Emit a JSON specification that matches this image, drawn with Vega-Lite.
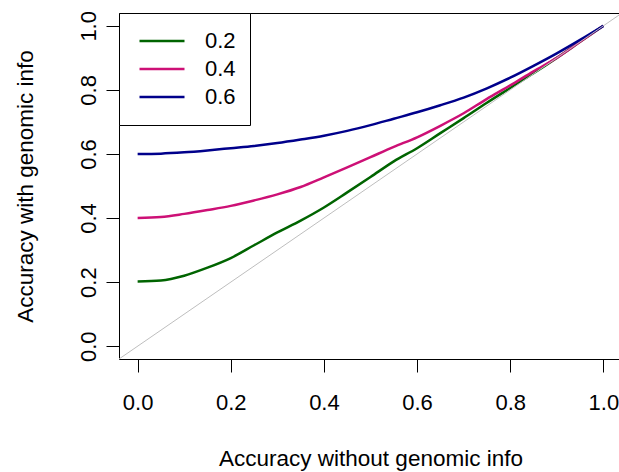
{
  "$schema": "https://vega.github.io/schema/vega-lite/v6.json",
  "autosize": "none",
  "padding": {"left": 119, "top": 13, "right": 0, "bottom": 113},
  "width": 503,
  "height": 346,
  "background": "white",
  "config": {
    "view": {"stroke": "black", "strokeWidth": 1},
    "font": "Liberation Sans",
    "axis": {
      "grid": false,
      "domain": false,
      "tickColor": "black",
      "tickSize": 13,
      "tickWidth": 1,
      "labelFont": "Liberation Sans",
      "labelFontSize": 22,
      "labelColor": "black",
      "titleFont": "Liberation Sans",
      "titleFontSize": 22.5,
      "titleFontWeight": "normal",
      "titleColor": "black"
    }
  },
  "layer": [
    {
      "data": {
        "values": [
          {"x": 0.00, "y": 0.202, "r": "0.2"},
          {"x": 0.05, "y": 0.205, "r": "0.2"},
          {"x": 0.10, "y": 0.220, "r": "0.2"},
          {"x": 0.15, "y": 0.245, "r": "0.2"},
          {"x": 0.20, "y": 0.275, "r": "0.2"},
          {"x": 0.25, "y": 0.315, "r": "0.2"},
          {"x": 0.30, "y": 0.355, "r": "0.2"},
          {"x": 0.35, "y": 0.392, "r": "0.2"},
          {"x": 0.40, "y": 0.433, "r": "0.2"},
          {"x": 0.45, "y": 0.480, "r": "0.2"},
          {"x": 0.50, "y": 0.528, "r": "0.2"},
          {"x": 0.55, "y": 0.577, "r": "0.2"},
          {"x": 0.60, "y": 0.618, "r": "0.2"},
          {"x": 0.65, "y": 0.665, "r": "0.2"},
          {"x": 0.70, "y": 0.712, "r": "0.2"},
          {"x": 0.75, "y": 0.760, "r": "0.2"},
          {"x": 0.80, "y": 0.806, "r": "0.2"},
          {"x": 0.85, "y": 0.852, "r": "0.2"},
          {"x": 0.90, "y": 0.900, "r": "0.2"},
          {"x": 0.95, "y": 0.950, "r": "0.2"},
          {"x": 1.00, "y": 1.000, "r": "0.2"},
          {"x": 0.00, "y": 0.400, "r": "0.4"},
          {"x": 0.05, "y": 0.403, "r": "0.4"},
          {"x": 0.10, "y": 0.413, "r": "0.4"},
          {"x": 0.15, "y": 0.425, "r": "0.4"},
          {"x": 0.20, "y": 0.438, "r": "0.4"},
          {"x": 0.25, "y": 0.455, "r": "0.4"},
          {"x": 0.30, "y": 0.474, "r": "0.4"},
          {"x": 0.35, "y": 0.497, "r": "0.4"},
          {"x": 0.40, "y": 0.527, "r": "0.4"},
          {"x": 0.45, "y": 0.558, "r": "0.4"},
          {"x": 0.50, "y": 0.590, "r": "0.4"},
          {"x": 0.55, "y": 0.622, "r": "0.4"},
          {"x": 0.60, "y": 0.652, "r": "0.4"},
          {"x": 0.65, "y": 0.688, "r": "0.4"},
          {"x": 0.70, "y": 0.727, "r": "0.4"},
          {"x": 0.75, "y": 0.772, "r": "0.4"},
          {"x": 0.80, "y": 0.814, "r": "0.4"},
          {"x": 0.85, "y": 0.858, "r": "0.4"},
          {"x": 0.90, "y": 0.900, "r": "0.4"},
          {"x": 0.95, "y": 0.950, "r": "0.4"},
          {"x": 1.00, "y": 1.000, "r": "0.4"},
          {"x": 0.00, "y": 0.600, "r": "0.6"},
          {"x": 0.05, "y": 0.601, "r": "0.6"},
          {"x": 0.10, "y": 0.605, "r": "0.6"},
          {"x": 0.15, "y": 0.611, "r": "0.6"},
          {"x": 0.20, "y": 0.618, "r": "0.6"},
          {"x": 0.25, "y": 0.625, "r": "0.6"},
          {"x": 0.30, "y": 0.634, "r": "0.6"},
          {"x": 0.35, "y": 0.645, "r": "0.6"},
          {"x": 0.40, "y": 0.657, "r": "0.6"},
          {"x": 0.45, "y": 0.672, "r": "0.6"},
          {"x": 0.50, "y": 0.690, "r": "0.6"},
          {"x": 0.55, "y": 0.710, "r": "0.6"},
          {"x": 0.60, "y": 0.730, "r": "0.6"},
          {"x": 0.65, "y": 0.752, "r": "0.6"},
          {"x": 0.70, "y": 0.776, "r": "0.6"},
          {"x": 0.75, "y": 0.805, "r": "0.6"},
          {"x": 0.80, "y": 0.838, "r": "0.6"},
          {"x": 0.85, "y": 0.875, "r": "0.6"},
          {"x": 0.90, "y": 0.914, "r": "0.6"},
          {"x": 0.95, "y": 0.956, "r": "0.6"},
          {"x": 1.00, "y": 1.000, "r": "0.6"}
        ]
      },
      "mark": {"type": "line", "strokeWidth": 2.5, "clip": true, "interpolate": "monotone"},
      "encoding": {
        "x": {
          "field": "x", "type": "quantitative",
          "scale": {"domain": [-0.04, 1.04], "nice": false, "zero": false},
          "axis": {
            "values": [0, 0.2, 0.4, 0.6, 0.8, 1.0],
            "format": ".1f",
            "labelBaseline": "alphabetic",
            "labelPadding": 37,
            "labelFlush": false,
            "labelOverlap": false,
            "title": "Accuracy without genomic info",
            "titleBaseline": "alphabetic",
            "titleAnchor": "middle",
            "titleX": 251.5,
            "titleY": 106
          }
        },
        "y": {
          "field": "y", "type": "quantitative",
          "scale": {"domain": [-0.04, 1.04], "nice": false, "zero": false},
          "axis": {
            "values": [0, 0.2, 0.4, 0.6, 0.8, 1.0],
            "format": ".1f",
            "labelAngle": 270,
            "labelAlign": "center",
            "labelBaseline": "alphabetic",
            "labelPadding": 11,
            "labelFlush": false,
            "labelOverlap": false,
            "title": "Accuracy with genomic info",
            "titleAngle": 270,
            "titleBaseline": "alphabetic",
            "titleAlign": "center",
            "titleX": -87,
            "titleY": 173
          }
        },
        "color": {
          "field": "r", "type": "nominal",
          "scale": {"domain": ["0.2", "0.4", "0.6"], "range": ["#006400", "#CD1076", "#00008B"]},
          "legend": {
            "orient": "none",
            "legendX": 0,
            "legendY": 0,
            "title": null,
            "symbolType": "stroke",
            "symbolSize": 2025,
            "symbolStrokeWidth": 2.5,
            "strokeColor": "black",
            "fillColor": "white",
            "padding": 14,
            "labelFont": "Liberation Sans",
            "labelFontSize": 22,
            "labelColor": "black",
            "labelOffset": 19,
            "symbolOffset": 5,
            "clipHeight": 28,
            "rowPadding": 0
          }
        },
        "order": {"field": "x", "type": "quantitative"}
      }
    },
    {
      "data": {"values": [{"x": -0.04, "y": -0.04}, {"x": 1.04, "y": 1.04}]},
      "mark": {"type": "line", "color": "#BEBEBE", "strokeWidth": 1, "clip": true},
      "encoding": {
        "x": {"field": "x", "type": "quantitative"},
        "y": {"field": "y", "type": "quantitative"}
      }
    }
  ]
}
